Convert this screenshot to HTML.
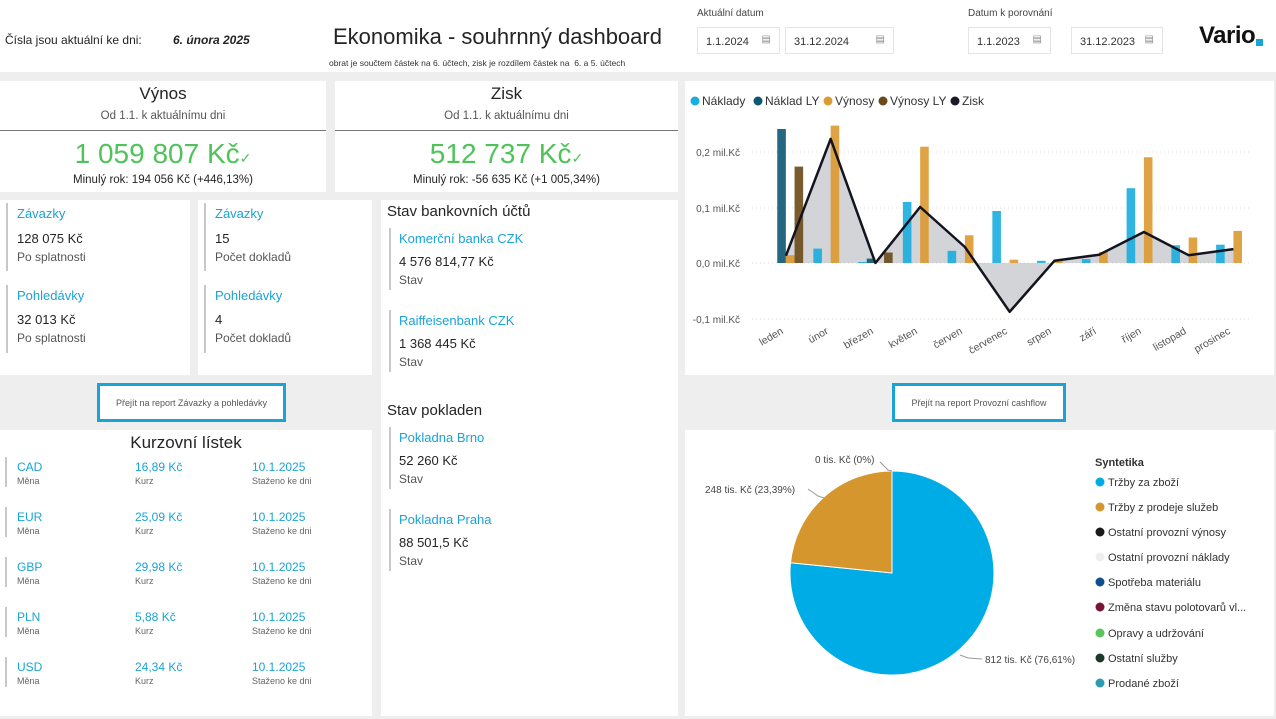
<!DOCTYPE html>
<html><head><meta charset="utf-8">
<style>
*{margin:0;padding:0;box-sizing:border-box}
body{width:1276px;height:719px;background:#eeeeee;font-family:"Liberation Sans",sans-serif;color:#252423;position:relative;overflow:hidden}
.a{position:absolute}
.card{position:absolute;background:#fff}
.blue{color:#1aa3d6}
.bar{border-left:2px solid #c8c8c8;position:absolute}
.t{position:absolute;white-space:nowrap}
.inp{position:absolute;height:27px;border:1px solid #e4e4e4;background:#fff;font-size:11px;padding:8px 0 0 8px;color:#333}
.inp:after{content:"▤";position:absolute;right:8px;top:6px;font-size:10px;color:#888}
.btn{position:absolute;border:3px solid #1aa3d6;background:#fff;font-size:9px;color:#555;text-align:center}
.kl{font-size:12px;color:#1aa3d6}
.ks{font-size:9px;color:#666}
</style></head><body>
<div class="card" style="left:0;top:0;width:1276px;height:72px"></div>
<div class="t" style="left:5px;top:33px;font-size:12px">Čísla jsou aktuální ke dni:</div>
<div class="t" style="left:173px;top:33px;font-size:12px;font-weight:bold;font-style:italic">6. února 2025</div>
<div class="t" style="left:333px;top:24px;font-size:22px">Ekonomika - souhrnný dashboard</div>
<div class="t" style="left:329px;top:58px;font-size:8.5px;color:#333">obrat je součtem částek na 6. účtech, zisk je rozdílem částek na &nbsp;6. a 5. účtech</div>
<div class="t" style="left:697px;top:8px;font-size:10px;color:#444">Aktuální datum</div>
<div class="t" style="left:968px;top:8px;font-size:10px;color:#444">Datum k porovnání</div>
<div class="inp" style="left:697px;top:27px;width:83px">1.1.2024</div>
<div class="inp" style="left:785px;top:27px;width:109px">31.12.2024</div>
<div class="inp" style="left:968px;top:27px;width:83px">1.1.2023</div>
<div class="inp" style="left:1071px;top:27px;width:92px">31.12.2023</div>
<div class="t" style="left:1199px;top:22px;font-size:24px;font-weight:bold;color:#111;letter-spacing:-0.5px">Vario</div>
<div class="a" style="left:1256px;top:39px;width:7px;height:7px;background:#1aa3d6"></div>

<div class="card" style="left:0;top:81px;width:326px;height:111px"></div>
<div class="a" style="left:0;top:130px;width:326px;height:1px;background:#777"></div>
<div class="t" style="left:0;top:84px;width:326px;text-align:center;font-size:17px">Výnos</div>
<div class="t" style="left:0;top:110px;width:326px;text-align:center;font-size:11.5px;color:#555">Od 1.1. k aktuálnímu dni</div>
<div class="t" style="left:0;top:138px;width:326px;text-align:center;font-size:28px;color:#4fc35a">1 059 807 Kč<span style="font-size:14px">✓</span></div>
<div class="t" style="left:0;top:174px;width:326px;text-align:center;font-size:11.5px">Minulý rok: 194 056 Kč (+446,13%)</div>

<div class="card" style="left:335px;top:81px;width:343px;height:111px"></div>
<div class="a" style="left:335px;top:130px;width:343px;height:1px;background:#777"></div>
<div class="t" style="left:335px;top:84px;width:343px;text-align:center;font-size:17px">Zisk</div>
<div class="t" style="left:335px;top:110px;width:343px;text-align:center;font-size:11.5px;color:#555">Od 1.1. k aktuálnímu dni</div>
<div class="t" style="left:335px;top:138px;width:343px;text-align:center;font-size:28px;color:#4fc35a">512 737 Kč<span style="font-size:14px">✓</span></div>
<div class="t" style="left:335px;top:174px;width:343px;text-align:center;font-size:11.5px">Minulý rok: -56 635 Kč (+1 005,34%)</div>

<div class="card" style="left:0;top:200px;width:190px;height:175px"></div>
<div class="card" style="left:198px;top:200px;width:174px;height:175px"></div>
<div class="bar" style="left:6px;top:203px;height:68px"></div>
<div class="bar" style="left:6px;top:285px;height:68px"></div>
<div class="bar" style="left:204px;top:203px;height:68px"></div>
<div class="bar" style="left:204px;top:285px;height:68px"></div>
<div class="t blue" style="left:17px;top:206px;font-size:13px">Závazky</div>
<div class="t" style="left:17px;top:231px;font-size:13px">128 075 Kč</div>
<div class="t" style="left:17px;top:250px;font-size:12px;color:#555">Po splatnosti</div>
<div class="t blue" style="left:17px;top:288px;font-size:13px">Pohledávky</div>
<div class="t" style="left:17px;top:312px;font-size:13px">32 013 Kč</div>
<div class="t" style="left:17px;top:331px;font-size:12px;color:#555">Po splatnosti</div>
<div class="t blue" style="left:215px;top:206px;font-size:13px">Závazky</div>
<div class="t" style="left:215px;top:231px;font-size:13px">15</div>
<div class="t" style="left:215px;top:250px;font-size:12px;color:#555">Počet dokladů</div>
<div class="t blue" style="left:215px;top:288px;font-size:13px">Pohledávky</div>
<div class="t" style="left:215px;top:312px;font-size:13px">4</div>
<div class="t" style="left:215px;top:331px;font-size:12px;color:#555">Počet dokladů</div>

<div class="card" style="left:381px;top:200px;width:297px;height:516px"></div>
<div class="t" style="left:387px;top:203px;font-size:15px">Stav bankovních účtů</div>
<div class="bar" style="left:389px;top:228px;height:62px"></div>
<div class="t blue" style="left:399px;top:231px;font-size:13px">Komerční banka CZK</div>
<div class="t" style="left:399px;top:254px;font-size:13px">4 576 814,77 Kč</div>
<div class="t" style="left:399px;top:273px;font-size:12px;color:#555">Stav</div>
<div class="bar" style="left:389px;top:310px;height:62px"></div>
<div class="t blue" style="left:399px;top:313px;font-size:13px">Raiffeisenbank CZK</div>
<div class="t" style="left:399px;top:336px;font-size:13px">1 368 445 Kč</div>
<div class="t" style="left:399px;top:355px;font-size:12px;color:#555">Stav</div>
<div class="t" style="left:387px;top:402px;font-size:15px">Stav pokladen</div>
<div class="bar" style="left:389px;top:427px;height:62px"></div>
<div class="t blue" style="left:399px;top:430px;font-size:13px">Pokladna Brno</div>
<div class="t" style="left:399px;top:453px;font-size:13px">52 260 Kč</div>
<div class="t" style="left:399px;top:472px;font-size:12px;color:#555">Stav</div>
<div class="bar" style="left:389px;top:509px;height:62px"></div>
<div class="t blue" style="left:399px;top:512px;font-size:13px">Pokladna Praha</div>
<div class="t" style="left:399px;top:535px;font-size:13px">88 501,5 Kč</div>
<div class="t" style="left:399px;top:554px;font-size:12px;color:#555">Stav</div>

<div class="btn" style="left:97px;top:383px;width:189px;height:39px;padding-top:12px">Přejít na report Závazky a pohledávky</div>
<div class="btn" style="left:892px;top:383px;width:174px;height:39px;padding-top:12px">Přejít na report Provozní cashflow</div>

<div class="card" style="left:0;top:430px;width:372px;height:286px"></div>
<div class="t" style="left:0;top:433px;width:372px;text-align:center;font-size:17px">Kurzovní lístek</div>
<div class="bar" style="left:5px;top:457px;height:30px"></div><div class="bar" style="left:5px;top:507px;height:30px"></div><div class="bar" style="left:5px;top:557px;height:30px"></div><div class="bar" style="left:5px;top:607px;height:30px"></div><div class="bar" style="left:5px;top:657px;height:30px"></div>
<div class="t kl" style="left:17px;top:460px">CAD</div><div class="t ks" style="left:17px;top:476px">Měna</div>
<div class="t kl" style="left:135px;top:460px">16,89 Kč</div><div class="t ks" style="left:135px;top:476px">Kurz</div>
<div class="t kl" style="left:252px;top:460px">10.1.2025</div><div class="t ks" style="left:252px;top:476px">Staženo ke dni</div>
<div class="t kl" style="left:17px;top:510px">EUR</div><div class="t ks" style="left:17px;top:526px">Měna</div>
<div class="t kl" style="left:135px;top:510px">25,09 Kč</div><div class="t ks" style="left:135px;top:526px">Kurz</div>
<div class="t kl" style="left:252px;top:510px">10.1.2025</div><div class="t ks" style="left:252px;top:526px">Staženo ke dni</div>
<div class="t kl" style="left:17px;top:560px">GBP</div><div class="t ks" style="left:17px;top:576px">Měna</div>
<div class="t kl" style="left:135px;top:560px">29,98 Kč</div><div class="t ks" style="left:135px;top:576px">Kurz</div>
<div class="t kl" style="left:252px;top:560px">10.1.2025</div><div class="t ks" style="left:252px;top:576px">Staženo ke dni</div>
<div class="t kl" style="left:17px;top:610px">PLN</div><div class="t ks" style="left:17px;top:626px">Měna</div>
<div class="t kl" style="left:135px;top:610px">5,88 Kč</div><div class="t ks" style="left:135px;top:626px">Kurz</div>
<div class="t kl" style="left:252px;top:610px">10.1.2025</div><div class="t ks" style="left:252px;top:626px">Staženo ke dni</div>
<div class="t kl" style="left:17px;top:660px">USD</div><div class="t ks" style="left:17px;top:676px">Měna</div>
<div class="t kl" style="left:135px;top:660px">24,34 Kč</div><div class="t ks" style="left:135px;top:676px">Kurz</div>
<div class="t kl" style="left:252px;top:660px">10.1.2025</div><div class="t ks" style="left:252px;top:676px">Staženo ke dni</div>

<div class="card" style="left:685px;top:81px;width:589px;height:294px"></div>
<div class="card" style="left:685px;top:430px;width:589px;height:286px"></div>
<svg class="a" style="left:0;top:0" width="1276" height="719" font-family="Liberation Sans, sans-serif">
<g font-size="12" fill="#333">
<circle cx="695" cy="101" r="4.5" fill="#1aaee0"/><text x="702" y="105">Náklady</text>
<circle cx="758" cy="101" r="4.5" fill="#0c5873"/><text x="765" y="105">Náklad LY</text>
<circle cx="828" cy="101" r="4.5" fill="#dc9a32"/><text x="835" y="105">Výnosy</text>
<circle cx="883" cy="101" r="4.5" fill="#6b4a1a"/><text x="890" y="105">Výnosy LY</text>
<circle cx="955" cy="101" r="4.5" fill="#1a1a2a"/><text x="962" y="105">Zisk</text>
</g>
<g stroke="#ddd" stroke-dasharray="1,3">
<line x1="752" x2="1250" y1="152" y2="152"/><line x1="752" x2="1250" y1="208" y2="208"/><line x1="752" x2="1250" y1="263" y2="263"/><line x1="752" x2="1250" y1="319" y2="319"/>
</g>
<g font-size="10" fill="#555" text-anchor="end">
<text x="740" y="156">0,2 mil.Kč</text><text x="740" y="212">0,1 mil.Kč</text><text x="740" y="267">0,0 mil.Kč</text><text x="740" y="323">-0,1 mil.Kč</text>
</g>
<polygon fill="#c8c9cd" opacity="0.8" points="785.9,255.8 830.65,138.9 875.4,263 920.15,207 964.9,247 1009.65,311.8 1054.4,260.8 1099.15,254.7 1143.9,232 1188.65,255.2 1233.4,249.1 1233.4,263 785.9,263"/>
<g opacity="0.9">
<g fill="#1aaee0">
<rect x="813.35" y="248.6" width="8.6" height="14.4"/><rect x="858.1" y="262" width="8.6" height="1"/><rect x="902.85" y="202" width="8.6" height="61"/><rect x="947.6" y="250.8" width="8.6" height="12.2"/><rect x="992.35" y="211" width="8.6" height="52"/><rect x="1037.1" y="260.8" width="8.6" height="2.2"/><rect x="1081.85" y="259.1" width="8.6" height="3.9"/><rect x="1126.6" y="188.2" width="8.6" height="74.8"/><rect x="1171.35" y="245.3" width="8.6" height="17.7"/><rect x="1216.1" y="244.7" width="8.6" height="18.3"/>
</g>
<g fill="#0c5873"><rect x="777.25" y="129" width="8.6" height="134"/><rect x="866.75" y="258.6" width="8.6" height="4.4"/></g>
<g fill="#dc9a32">
<rect x="785.9" y="255.2" width="8.6" height="7.8"/><rect x="830.65" y="125.6" width="8.6" height="137.4"/><rect x="920.15" y="146.7" width="8.6" height="116.3"/><rect x="964.9" y="235.3" width="8.6" height="27.7"/><rect x="1009.65" y="259.7" width="8.6" height="3.3"/><rect x="1054.4" y="261.5" width="8.6" height="1.5"/><rect x="1099.15" y="252" width="8.6" height="11"/><rect x="1143.9" y="157.2" width="8.6" height="105.8"/><rect x="1188.65" y="237.5" width="8.6" height="25.5"/><rect x="1233.4" y="230.9" width="8.6" height="32.1"/>
</g>
<g fill="#6b4a1a"><rect x="794.55" y="166.6" width="8.6" height="96.4"/><rect x="884.05" y="252.5" width="8.6" height="10.5"/></g>
</g>
<polyline fill="none" stroke="#141420" stroke-width="2.5" stroke-linejoin="round" points="785.9,255.8 830.65,138.9 875.4,263 920.15,207 964.9,247 1009.65,311.8 1054.4,260.8 1099.15,254.7 1143.9,232 1188.65,255.2 1233.4,249.1"/>
<g font-size="10.5" fill="#555" text-anchor="end">
<text transform="translate(784,333) rotate(-30)">leden</text>
<text transform="translate(829,333) rotate(-30)">únor</text>
<text transform="translate(874,333) rotate(-30)">březen</text>
<text transform="translate(918,333) rotate(-30)">květen</text>
<text transform="translate(963,333) rotate(-30)">červen</text>
<text transform="translate(1008,333) rotate(-30)">červenec</text>
<text transform="translate(1052,333) rotate(-30)">srpen</text>
<text transform="translate(1097,333) rotate(-30)">září</text>
<text transform="translate(1142,333) rotate(-30)">říjen</text>
<text transform="translate(1187,333) rotate(-30)">listopad</text>
<text transform="translate(1231,333) rotate(-30)">prosinec</text>
</g>
<path d="M892,573 L892,471 A102,102 0 1 1 790.5,562.7 Z" fill="#00ace6" stroke="#fff" stroke-width="1"/>
<path d="M892,573 L790.5,562.7 A102,102 0 0 1 892,471 Z" fill="#d6962e" stroke="#fff" stroke-width="1"/>
<g stroke="#999" fill="none"><polyline points="880,462 888,470 892,471"/><polyline points="808,489 818,496 824,498"/><polyline points="960,655 968,658 982,659"/></g>
<g font-size="10" fill="#444">
<text x="815" y="463">0 tis. Kč (0%)</text>
<text x="705" y="493">248 tis. Kč (23,39%)</text>
<text x="985" y="663">812 tis. Kč (76,61%)</text>
</g>
<g font-size="11" fill="#333">
<text x="1095" y="466" font-weight="bold">Syntetika</text>
<circle cx="1100" cy="482" r="4.5" fill="#00ace6"/><text x="1108" y="486">Tržby za zboží</text>
<circle cx="1100" cy="507" r="4.5" fill="#d6962e"/><text x="1108" y="511">Tržby z prodeje služeb</text>
<circle cx="1100" cy="532" r="4.5" fill="#1a1a1a"/><text x="1108" y="536">Ostatní provozní výnosy</text>
<circle cx="1100" cy="557" r="4.5" fill="#eeeeee"/><text x="1108" y="561">Ostatní provozní náklady</text>
<circle cx="1100" cy="582" r="4.5" fill="#0d4f8f"/><text x="1108" y="586">Spotřeba materiálu</text>
<circle cx="1100" cy="607" r="4.5" fill="#7a1436"/><text x="1108" y="611">Změna stavu polotovarů vl...</text>
<circle cx="1100" cy="633" r="4.5" fill="#5cc45c"/><text x="1108" y="637">Opravy a udržování</text>
<circle cx="1100" cy="658" r="4.5" fill="#1c3a26"/><text x="1108" y="662">Ostatní služby</text>
<circle cx="1100" cy="683" r="4.5" fill="#2a9bb0"/><text x="1108" y="687">Prodané zboží</text>
</g>
</svg>
</body></html>
